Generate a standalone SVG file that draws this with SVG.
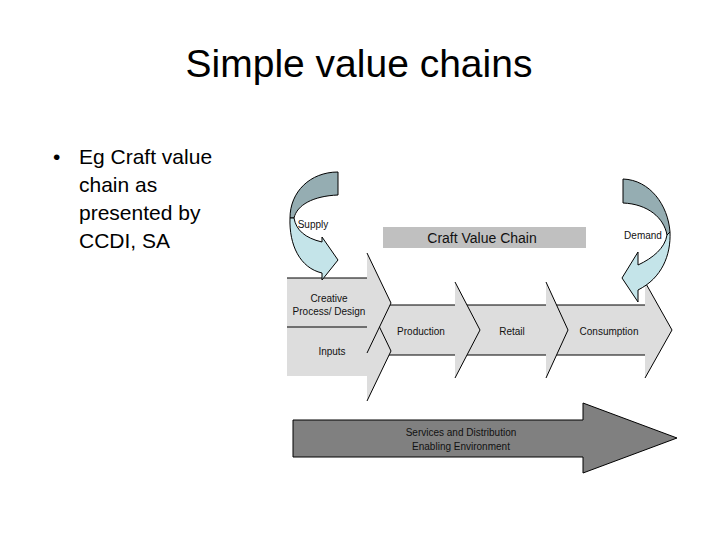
<svg xmlns="http://www.w3.org/2000/svg" width="720" height="540" viewBox="0 0 720 540">
<style>
.title{font-family:"Liberation Sans",Arial,sans-serif;font-size:39px;fill:#000}
.body{font-family:"Liberation Sans",Arial,sans-serif;font-size:21px;fill:#000}
.lbl{font-family:"Liberation Sans",Arial,sans-serif;font-size:10px;fill:#111;text-anchor:middle}
.chain{fill:#dddddd;stroke:none}
.edge{fill:none;stroke:#000;stroke-width:1}
.dark{fill:#95adb2;stroke:#000;stroke-width:1}
.light{fill:#c4e4e9;stroke:#000;stroke-width:1}
</style>
<rect width="720" height="540" fill="#ffffff"/>
<text class="title" x="359" y="77" text-anchor="middle">Simple value chains</text>
<g id="bullet">
<text class="body" x="53" y="164">•</text>
<text class="body" x="79" y="164">Eg Craft value</text>
<text class="body" x="79" y="192">chain as</text>
<text class="body" x="79" y="220">presented by</text>
<text class="body" x="79" y="248">CCDI, SA</text>
</g>
<g id="craft-value-chain">
<rect x="383" y="227" width="203" height="21" fill="#c0c0c0"/>
<text class="lbl" x="482" y="243" style="font-size:14px">Craft Value Chain</text>
</g>
<g id="consumption">
<polygon class="chain" points="555,305 645,305 645,282 672,330 645,378 645,355 555,355"/>
<path class="edge" d="M555,305 H645 M645,282 L672,330 L645,378 M555,355 H645"/>
<text class="lbl" x="609" y="335">Consumption</text>
</g>
<g id="retail">
<polygon class="chain" points="465,305 546,305 546,282 568,330 546,378 546,355 465,355"/>
<path class="edge" d="M465,305 H546 M546,282 L568,330 L546,378 M465,355 H546"/>
<text class="lbl" x="512" y="335">Retail</text>
</g>
<g id="production">
<polygon class="chain" points="375,305 455,305 455,282 480,330 455,378 455,355 375,355"/>
<path class="edge" d="M375,305 H455 M455,282 L480,330 L455,378 M375,355 H455"/>
<text class="lbl" x="421" y="335">Production</text>
</g>
<g id="inputs">
<polygon class="chain" points="287,327 367,327 367,301 391,351 367,401 367,376 287,376"/>
<path class="edge" d="M367,301 L391,351 L367,401"/>
<text class="lbl" x="332" y="355">Inputs</text>
</g>
<g id="creative">
<polygon class="chain" points="287,278 367,278 367,253 391,303 367,353 367,327 287,327"/>
<path class="edge" d="M287,278 H367 M367,253 L391,303 L367,353 M287,327 H367"/>
<text class="lbl" x="329" y="302">Creative</text>
<text class="lbl" x="329" y="315">Process/ Design</text>
</g>
<g id="supply">
<path class="dark" d="M338,172 C310,172 290,192 290,218 L294,218 C297,205 313,196 338,195 Z"/>
<path class="light" d="M290,218 C289,245 300,268 322,273 L322,280 L338,260 L322,237 L322,242 C305,238 296,230 294,218 Z"/>
<text class="lbl" x="313" y="228">Supply</text>
</g>
<g id="demand">
<path class="dark" d="M623,179 C650,180 668,205 670,232 L667,235 C664,218 648,204 623,203 Z"/>
<path class="light" d="M670,232 C671,255 662,278 638,290 L638,302 L622,278 L638,252 L638,265 C653,258 665,248 667,235 Z"/>
<text class="lbl" x="643" y="239">Demand</text>
</g>
<g id="services">
<polygon points="293,420 583,420 583,403 677,438 583,473 583,457 293,457" fill="#808080" stroke="#000" stroke-width="1"/>
<text class="lbl" x="461" y="436">Services and Distribution</text>
<text class="lbl" x="461" y="450">Enabling Environment</text>
</g>
<g id="connectors"/>
</svg>
